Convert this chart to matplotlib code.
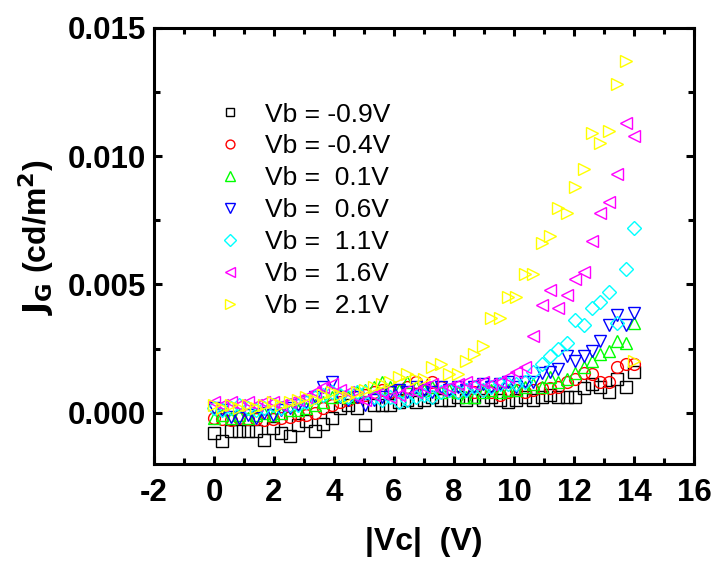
import matplotlib
matplotlib.use("Agg")
import matplotlib.pyplot as plt
from matplotlib.ticker import MultipleLocator

plt.rcParams['font.family'] = ['Liberation Sans', 'DejaVu Sans']
plt.rcParams['axes.unicode_minus'] = False

# |Vc| sweep (V)
vc = [0.0, 0.28, 0.56, 0.84, 1.12, 1.4, 1.68, 1.96, 2.24, 2.52,
      2.8, 3.08, 3.36, 3.64, 3.92, 4.2, 4.48, 4.76, 5.04, 5.32,
      5.6, 5.88, 6.16, 6.44, 6.72, 7.0, 7.28, 7.56, 7.84, 8.12,
      8.4, 8.68, 8.96, 9.24, 9.52, 9.8, 10.08, 10.36, 10.64, 10.92,
      11.2, 11.48, 11.76, 12.04, 12.32, 12.6, 12.88, 13.16, 13.44, 13.72,
      14.0]

# J_G (cd/m^2) for each Vb
jg_m09 = [-0.00081, -0.0011, -0.0007, -0.00073, -0.0007, -0.00073, -0.00105, -0.00058, -0.00078, -0.00092,
          -0.00046, -0.00031, -0.00073, -0.00043, -0.0002, 0.0002, 0.0003, 0.0002, -0.00046, 0.0003,
          0.0003, 0.0003, 0.0004, 0.0005, 0.0004, 0.0005, 0.0006, 0.0005, 0.0005, 0.0006,
          0.0005, 0.0006, 0.0005, 0.0006, 0.0005, 0.0004, 0.0005, 0.0006, 0.0005, 0.0006,
          0.0007, 0.0006, 0.0006, 0.0006, 0.00097, 0.0011, 0.001, 0.0008, 0.0013, 0.001,
          0.0016]
jg_m04 = [-0.0002, -0.00025, -0.0003, -0.0002, -0.00025, -0.00023, -0.0003, -0.00023, -0.0002, -0.00015,
          -0.0001, -0.0001, 0.0, 0.0002, 0.0003, 0.0004, 0.0005, 0.0006, 0.0007, 0.0008,
          0.0009, 0.0008, 0.0009, 0.001, 0.0012, 0.0009, 0.0012, 0.001, 0.0009, 0.0008,
          0.0009, 0.0008, 0.0009, 0.0008, 0.0007, 0.0008, 0.0009, 0.0008, 0.0009, 0.00097,
          0.00097, 0.001, 0.0012, 0.0013, 0.00155, 0.0015, 0.0012, 0.0012, 0.0018, 0.0019,
          0.0019]
jg_p01 = [-0.0002, -0.0001, -0.0002, -0.0001, -0.0002, -0.0001, 0.0, -0.0001, 0.0, 0.0001,
          0.0001, 0.0002, 0.0003, 0.0004, 0.0006, 0.0007, 0.0006, 0.0008, 0.0009, 0.001,
          0.0012, 0.001, 0.0009, 0.0012, 0.001, 0.0009, 0.001, 0.0008, 0.0009, 0.0008,
          0.0006, 0.0006, 0.0008, 0.0009, 0.0008, 0.0009, 0.0009, 0.001, 0.0011, 0.001,
          0.0014, 0.0012, 0.0013, 0.00155, 0.0018, 0.002, 0.0023, 0.0024, 0.0028, 0.0027,
          0.0035]
jg_p06 = [0.0002, 0.0001, -0.00015, -0.0002, -0.0001, -0.0002, 0.0, -0.0001, 0.0001, 0.0002,
          0.0003, 0.0004, 0.0006, 0.001, 0.0012, 0.0006, 0.0005, 0.0006, 0.0003, 0.0005,
          0.0006, 0.0008, 0.0009, 0.0008, 0.001, 0.0009, 0.0008, 0.001, 0.0009, 0.001,
          0.0009, 0.001, 0.0011, 0.001, 0.0011, 0.0012, 0.001, 0.0012, 0.0012, 0.00155,
          0.0016, 0.0017, 0.0022, 0.002, 0.0022, 0.0024, 0.0028, 0.0034, 0.0038, 0.0034,
          0.0039]
jg_p11 = [0.0002, 0.0001, 0.0002, 0.0003, 0.0002, 0.0001, 0.0002, 0.0003, 0.0002, 0.0003,
          0.0003, 0.0004, 0.0006, 0.0007, 0.0008, 0.0007, 0.0006, 0.0008, 0.0008, 0.0006,
          0.0005, 0.0006, 0.0004, 0.0005, 0.0006, 0.0007, 0.0006, 0.0008, 0.0009, 0.0008,
          0.0009, 0.001, 0.0009, 0.001, 0.0011, 0.0011, 0.0011, 0.0012, 0.0016, 0.0019,
          0.0022, 0.0025, 0.0027, 0.0036, 0.0034, 0.0041, 0.0043, 0.0047, 0.0035, 0.0056,
          0.0072]
jg_p16 = [0.0004, 0.0003, 0.0004, 0.0003, 0.0004, 0.0003, 0.0004, 0.0004, 0.0003, 0.0004,
          0.0005, 0.0006, 0.0008, 0.001, 0.0011, 0.0009, 0.0008, 0.0006, 0.0005, 0.0007,
          0.0008, 0.0006, 0.0007, 0.0009, 0.0008, 0.001, 0.0011, 0.0009, 0.0010, 0.0011,
          0.0012, 0.0011, 0.0012, 0.0011, 0.0012, 0.0014, 0.0016, 0.0018, 0.003, 0.0042,
          0.0048, 0.0041, 0.0046, 0.0052, 0.0055, 0.0067, 0.0078, 0.0082, 0.0093, 0.0113,
          0.0108]
jg_p21 = [0.0003, 0.0002, 0.0003, 0.0002, 0.0003, 0.0002, 0.0003, 0.0004, 0.0003, 0.0004,
          0.0005, 0.0006, 0.0005, 0.0007, 0.0008, 0.0007, 0.0006, 0.0008, 0.0009, 0.001,
          0.0011, 0.0012, 0.0014, 0.0015, 0.0013, 0.0013, 0.0018, 0.0019, 0.0015, 0.0015,
          0.002, 0.0023, 0.0026, 0.0037, 0.0037, 0.0045, 0.0045, 0.0054, 0.0054, 0.0066,
          0.0069, 0.008, 0.0078, 0.0088, 0.0095, 0.0109, 0.0105, 0.011, 0.0128, 0.0137,
          0.002]

series = [jg_m09, jg_m04, jg_p01, jg_p06, jg_p11, jg_p16, jg_p21]
labels = ['Vb = -0.9V', 'Vb = -0.4V', 'Vb =  0.1V', 'Vb =  0.6V',
          'Vb =  1.1V', 'Vb =  1.6V', 'Vb =  2.1V']
colors = ['#000000', '#ff0000', '#00ff00', '#0000ff', '#00ffff', '#ff00ff', '#ffff00']
markers = ['s', 'o', '^', 'v', 'D', '<', '>']
sizes = [8, 8.5, 9, 9, 7.5, 9, 9]

fig = plt.figure(figsize=(7.15, 5.64), dpi=100)
ax = fig.add_axes([0.2154, 0.1773, 0.7552, 0.7731])

for y, lab, c, m, s in zip(series, labels, colors, markers, sizes):
    ax.plot(vc, y, linestyle='none', marker=m, markersize=s,
            markerfacecolor='none', markeredgecolor=c, markeredgewidth=1.0,
            label=lab)

ax.set_xlim(-2, 16)
ax.set_ylim(-0.002, 0.015)
ax.xaxis.set_major_locator(MultipleLocator(2))
ax.xaxis.set_minor_locator(MultipleLocator(1))
ax.yaxis.set_major_locator(MultipleLocator(0.005))
ax.yaxis.set_minor_locator(MultipleLocator(0.0025))
ax.yaxis.set_major_formatter(plt.FuncFormatter(lambda v, p: f"{v:.3f}"))

for sp in ax.spines.values():
    sp.set_linewidth(2.2)

ax.tick_params(which='both', direction='in', top=True, right=True, width=2.2)
ax.tick_params(which='major', length=6, labelsize=22.5, pad=6)
ax.tick_params(axis='x', which='major', pad=10)
ax.tick_params(which='minor', length=4)
for lbl in ax.get_xticklabels() + ax.get_yticklabels():
    lbl.set_fontweight('bold')

ax.set_xlabel('|Vc|  (V)', fontsize=23, fontweight='bold', labelpad=14)
ax.set_ylabel(r'$\mathbf{J_G}$ (cd/m$^\mathbf{2}$)', fontsize=23, fontweight='bold')
ax.yaxis.set_label_coords(-0.182, 0.52)

leg = ax.legend(loc='upper left', bbox_to_anchor=(0.116, 0.829), frameon=False,
                fontsize=19, handlelength=1.0, handletextpad=0.85,
                labelspacing=0.3, borderpad=0, borderaxespad=0,
                markerscale=0.75)

fig.savefig('out.png', dpi=100)
